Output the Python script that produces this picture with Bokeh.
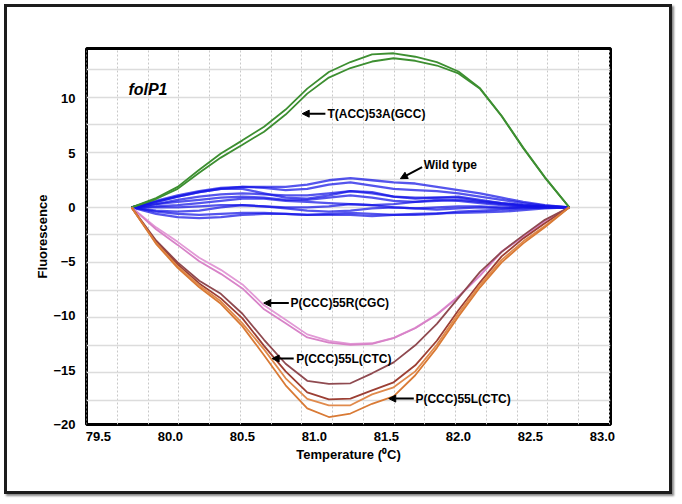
import numpy as np
from bokeh.plotting import figure
from bokeh.models import FixedTicker, NumeralTickFormatter, Arrow, NormalHead, Range1d
from bokeh.core.properties import value
from bokeh.embed import file_html
from bokeh.resources import INLINE

# ---------------- data ----------------
temps = [79.73, 79.9, 80.05, 80.2, 80.35, 80.5, 80.65, 80.8, 80.95, 81.1, 81.25,
         81.4, 81.55, 81.7, 81.85, 82.0, 82.15, 82.3, 82.45, 82.6, 82.77]

green_1 = [0, 0.86, 1.89, 3.47, 4.96, 6.18, 7.44, 9.02, 10.95, 12.48, 13.40,
           14.10, 14.21, 13.89, 13.40, 12.53, 10.98, 8.45, 5.51, 2.79, 0]
green_2 = [0, 0.77, 1.71, 3.19, 4.59, 5.77, 6.98, 8.56, 10.49, 11.97, 12.85,
           13.45, 13.75, 13.52, 13.08, 12.35, 10.93, 8.40, 5.45, 2.75, 0]

blue_1 = [0, 0.6, 1.1, 1.5, 1.8, 1.9, 1.9, 1.9, 2.1, 2.5, 2.7, 2.5, 2.3, 2.2, 1.9, 1.6, 1.3, 0.9, 0.5, 0.2, 0]
blue_2 = [0, 0.5, 1.0, 1.4, 1.7, 1.9, 1.8, 1.6, 1.7, 2.1, 2.3, 2.0, 1.7, 1.6, 1.5, 1.3, 1.0, 0.7, 0.4, 0.15, 0]
blue_3 = [0, 0.5, 1.0, 1.4, 1.7, 1.7, 1.3, 0.9, 0.8, 1.1, 1.5, 1.4, 1.0, 0.8, 0.9, 1.0, 0.7, 0.4, 0.2, 0.1, 0]
blue_4 = [0, 0.3, 0.7, 1.0, 1.2, 1.3, 1.2, 1.1, 1.1, 1.3, 1.5, 1.3, 1.0, 0.9, 0.9, 0.9, 0.6, 0.4, 0.2, 0.1, 0]
blue_5 = [0, 0.3, 0.5, 0.7, 0.9, 1.0, 0.9, 0.7, 0.7, 0.9, 1.1, 0.9, 0.6, 0.5, 0.6, 0.7, 0.5, 0.3, 0.15, 0.05, 0]
blue_6 = [0, 0.1, 0.2, 0.4, 0.6, 0.8, 0.8, 0.6, 0.5, 0.4, 0.3, 0.2, 0.3, 0.5, 0.7, 0.6, 0.4, 0.2, 0.1, 0.0, 0]
blue_7 = [0, 0.0, 0.0, 0.1, 0.2, 0.2, 0.1, 0.0, 0.0, 0.1, 0.3, 0.2, 0.0, -0.1, 0.0, 0.1, 0.1, 0.0, 0.0, 0.0, 0]
blue_8 = [0, -0.3, -0.4, -0.3, 0.0, 0.2, 0.1, -0.1, -0.3, -0.4, -0.3, -0.1, 0.0, -0.1, -0.2, -0.1, 0.0, -0.1, 0.0, 0.0, 0]
blue_9 = [0, -0.4, -0.6, -0.7, -0.6, -0.5, -0.5, -0.6, -0.7, -0.6, -0.5, -0.6, -0.7, -0.7, -0.6, -0.4, -0.3, -0.2, -0.1, 0.0, 0]
blue_10 = [0, -0.6, -0.9, -1.0, -0.9, -0.7, -0.6, -0.6, -0.7, -0.7, -0.7, -0.8, -0.7, -0.6, -0.55, -0.5, -0.45, -0.4, -0.25, -0.1, 0]

pink_1 = [0, -1.84, -3.18, -4.65, -5.76, -7.10, -9.03, -10.37, -11.71, -12.30, -12.58,
          -12.53, -12.03, -11.11, -9.86, -8.20, -6.27, -4.06, -2.67, -1.24, 0]
pink_2 = [0, -2.02, -3.46, -4.97, -6.13, -7.47, -9.40, -10.69, -11.99, -12.48, -12.67,
          -12.58, -12.05, -11.15, -9.90, -8.25, -6.30, -4.10, -2.70, -1.26, 0]

brown_1 = [0, -3.05, -5.07, -6.77, -7.97, -9.81, -12.21, -14.42, -15.99, -16.27, -16.22,
           -15.30, -14.29, -12.72, -10.74, -8.34, -5.94, -4.10, -2.58, -1.15, 0]
brown_2 = [0, -3.19, -5.26, -7.01, -8.39, -10.23, -12.77, -15.12, -17.05, -17.70, -17.63,
           -16.87, -16.13, -14.56, -12.30, -9.49, -6.91, -4.52, -2.86, -1.47, 0]
orange_1 = [0, -3.28, -5.44, -7.19, -8.66, -10.69, -13.09, -15.76, -17.65, -18.25, -18.25,
            -17.24, -16.59, -15.12, -12.67, -9.77, -7.14, -4.84, -3.13, -1.71, 0]
orange_2 = [0, -3.36, -5.58, -7.37, -8.89, -10.97, -13.64, -16.41, -18.53, -19.33, -19.01,
            -18.11, -17.42, -15.48, -12.95, -10.05, -7.37, -5.07, -3.32, -1.84, 0]

x_ticks = [79.5, 80.0, 80.5, 81.0, 81.5, 82.0, 82.5, 83.0]
y_ticks = [-20, -15, -10, -5, 0, 5, 10]

panel_title = "folP1"
x_title = "Temperature (\u2070C)"
y_title = "Fluorescence"

# annotations: (text, text_x, text_y, arrow_from_x, arrow_from_y, arrow_to_x, arrow_to_y)
notes = [
    ("T(ACC)53A(GCC)", 81.09, 8.64, 81.076, 8.64, 80.915, 8.64),
    ("Wild type", 81.759, 3.87, 81.748, 3.71, 81.597, 2.65),
    ("P(CCC)55R(CGC)", 80.833, -8.82, 80.822, -8.82, 80.648, -8.82),
    ("P(CCC)55L(CTC)", 80.873, -13.94, 80.856, -13.94, 80.706, -13.94),
    ("P(CCC)55L(CTC)", 81.701, -17.63, 81.690, -17.63, 81.516, -17.63),
]

# ---------------- figure ----------------
FONT = "Liberation Sans"

p = figure(width=668, height=490, output_backend="svg", toolbar_location=None,
           x_range=Range1d(79.417, 83.056), y_range=Range1d(-20.02, 14.65),
           min_border_left=79, min_border_right=65, min_border_top=41, min_border_bottom=73)
p.styles = {"border": "3px solid #1c1c1c", "box-shadow": "2px 2px 2px #888888",
            "margin-left": "4px", "margin-top": "4px"}

p.background_fill_color = "white"
p.border_fill_color = "white"
p.outline_line_color = "black"
p.outline_line_width = 3

# grid (the instrument's own grid, independent of the relabelled ticks)
p.xgrid.ticker = FixedTicker(ticks=list(79.632 + 0.21354 * np.arange(-1, 17)))
p.ygrid.ticker = FixedTicker(ticks=list(2.544 * np.arange(-7, 6)))
p.xgrid.grid_line_color = "#c8c8c8"
p.xgrid.grid_line_dash = "2 2"
p.xgrid.grid_line_width = 1
p.ygrid.grid_line_color = "#dcdcdc"
p.ygrid.grid_line_width = 1.5

for ax in (p.xaxis, p.yaxis):
    ax.axis_line_color = None
    ax.major_tick_line_color = None
    ax.minor_tick_line_color = None
    ax.major_tick_in = 0
    ax.major_tick_out = 0
    ax.major_label_text_font = FONT
    ax.major_label_text_font_style = "bold"
    ax.major_label_text_font_size = "13px"
    ax.major_label_text_color = "black"
    ax.axis_label_text_font = FONT
    ax.axis_label_text_font_style = "bold"
    ax.axis_label_text_font_size = "13px"
    ax.axis_label_text_color = "black"

p.xaxis.ticker = FixedTicker(ticks=x_ticks)
p.xaxis.formatter = NumeralTickFormatter(format="0.0")
p.yaxis.ticker = FixedTicker(ticks=y_ticks)
p.xaxis.axis_label = x_title
p.yaxis.axis_label = y_title
p.xaxis.major_label_standoff = 7
p.xaxis.axis_label_standoff = 3
p.yaxis.major_label_standoff = 11
p.yaxis.axis_label_standoff = 0

# curves
for ys in [blue_1, blue_2, blue_3, blue_4, blue_5, blue_6, blue_7, blue_8, blue_9, blue_10]:
    p.line(temps, ys, line_color="#1414e6", line_width=2.3, line_alpha=0.72)

p.line(temps, green_1, line_color="#3d8f31", line_width=1.8)
p.line(temps, green_2, line_color="#3d8f31", line_width=1.8)
p.line(temps, pink_1, line_color="#e29ad6", line_width=1.8)
p.line(temps, pink_2, line_color="#d883c8", line_width=1.8)
p.line(temps, brown_1, line_color="#8f4a50", line_width=1.8)
p.line(temps, brown_2, line_color="#9c3f34", line_width=1.8)
p.line(temps, orange_1, line_color="#e08a4c", line_width=1.8)
p.line(temps, orange_2, line_color="#d97a35", line_width=1.8)

# panel title
p.text(x=[79.708], y=[10.88], text=[panel_title], text_font=value(FONT),
       text_font_style="bold italic", text_font_size="16px", text_color="black",
       text_baseline="middle", text_align="left")

# annotations
for (t, tx, ty, ax0, ay0, ax1, ay1) in notes:
    p.text(x=[tx], y=[ty], text=[t], text_font=value(FONT), text_font_style="bold",
           text_font_size="12px", text_color="black", text_baseline="middle", text_align="left")
    p.add_layout(Arrow(x_start=ax0, y_start=ay0, x_end=ax1, y_end=ay1,
                       line_color="black", line_width=2,
                       end=NormalHead(size=7, fill_color="black", line_color="black")))

open("out.html", "w").write(file_html(p, INLINE))
